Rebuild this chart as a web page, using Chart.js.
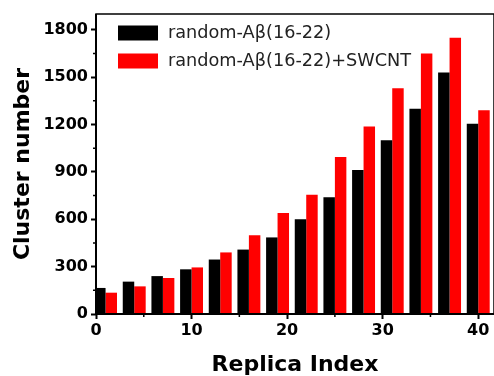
<!DOCTYPE html>
<html>
<head>
<meta charset="utf-8">
<script src="https://cdn.jsdelivr.net/npm/chart.js@4.4.1/dist/chart.umd.min.js"></script>
<style>
  html, body { margin: 0; padding: 0; background: #fff; }
  #wrap { width: 494px; height: 376px; }
</style>
</head>
<body>
<div id="wrap"><canvas id="chart" width="494" height="376"></canvas></div>
<script>
// Replica positions (centre of each bar pair)
const replicas = [1, 4, 7, 10, 13, 16, 19, 22, 25, 28, 31, 34, 37, 40];
const peptideOnly = [165, 205, 240, 283, 345, 408, 485, 600, 740, 912, 1100, 1300, 1530, 1205];
const withSwcnt = [135, 175, 228, 295, 390, 498, 640, 755, 995, 1187, 1430, 1650, 1750, 1290];
const xTicks = [0, 10, 20, 30, 40];
const xMinorTicks = [5, 15, 25, 35];
const yTicks = [0, 300, 600, 900, 1200, 1500, 1800];
const yMinorTicks = [150, 450, 750, 1050, 1350, 1650];

const boldFont = 'DejaVu Sans';

// frame, minor ticks and the in-plot legend
const decorations = {
    id: 'decorations',
    afterDraw(chart) {
        const ctx = chart.ctx;
        const area = chart.chartArea;
        const xs = chart.scales.x;
        const ys = chart.scales.y;
        ctx.save();
        ctx.strokeStyle = '#000';
        ctx.lineWidth = 1.5;
        ctx.strokeRect(area.left, area.top, area.right - area.left, area.bottom - area.top);
        ctx.lineWidth = 2;
        ctx.beginPath();
        ctx.moveTo(area.left, area.top);
        ctx.lineTo(area.left, area.bottom);
        ctx.lineTo(area.right, area.bottom);
        ctx.stroke();

        // minor ticks
        ctx.lineWidth = 1.5;
        ctx.beginPath();
        xMinorTicks.forEach(v => {
            const px = xs.getPixelForValue(v);
            ctx.moveTo(px, area.bottom);
            ctx.lineTo(px, area.bottom + 3);
        });
        yMinorTicks.forEach(v => {
            const py = ys.getPixelForValue(v);
            ctx.moveTo(area.left, py);
            ctx.lineTo(area.left - 3, py);
        });
        ctx.stroke();

        // legend
        ctx.font = '17.7px "DejaVu Sans"';
        ctx.textBaseline = 'middle';
        ctx.textAlign = 'left';
        const rows = [33, 61];
        chart.data.datasets.forEach((ds, i) => {
            ctx.fillStyle = ds.backgroundColor;
            ctx.fillRect(118, rows[i] - 7.5, 40, 15);
            ctx.fillStyle = '#222';
            ctx.fillText(ds.label, 168, rows[i]);
        });
        ctx.restore();
    }
};

const datasets = [
    {
        label: 'random-A\u03B2(16-22)',
        data: replicas.map((x, i) => ({ x: x, y: peptideOnly[i] })),
        backgroundColor: '#000000'
    },
    {
        label: 'random-A\u03B2(16-22)+SWCNT',
        data: replicas.map((x, i) => ({ x: x, y: withSwcnt[i] })),
        backgroundColor: '#ff0000'
    }
];

new Chart(document.getElementById('chart'), {
    type: 'bar',
    data: { datasets: datasets },
    plugins: [decorations],
    options: {
        responsive: false,
        animation: false,
        categoryPercentage: 0.8,
        barPercentage: 1.0,
        layout: { padding: { top: 14, right: 0, left: 0, bottom: 0 } },
        plugins: {
            legend: { display: false },
            tooltip: { enabled: false }
        },
        scales: {
            x: {
                type: 'linear',
                min: 0,
                max: 41.65,
                offset: false,
                afterBuildTicks: (scale) => {
                    scale.ticks = xTicks.map(v => ({ value: v }));
                },
                afterFit: (scale) => { scale.height = 62; },
                grid: { offset: false, drawOnChartArea: false, tickLength: 5, tickWidth: 2, color: '#000' },
                border: { display: false },
                ticks: {
                    color: '#000',
                    padding: 2,
                    maxRotation: 0,
                    callback: (v) => String(v),
                    font: { family: boldFont, size: 16, weight: 'bold' }
                },
                title: {
                    display: true,
                    text: 'Replica Index',
                    color: '#000',
                    padding: { top: 0, bottom: 0 },
                    font: { family: boldFont, size: 22, weight: 'bold', lineHeight: 1 }
                }
            },
            y: {
                min: 0,
                max: 1900,
                afterBuildTicks: (scale) => {
                    scale.ticks = yTicks.map(v => ({ value: v }));
                },
                afterFit: (scale) => { scale.width = 96; },
                grid: { drawOnChartArea: false, tickLength: 5, tickWidth: 2, color: '#000' },
                border: { display: false },
                ticks: {
                    color: '#000',
                    padding: 3,
                    callback: (v) => String(v),
                    font: { family: boldFont, size: 16, weight: 'bold' }
                },
                title: {
                    display: true,
                    text: 'Cluster number',
                    color: '#000',
                    padding: { top: 12, bottom: 0 },
                    font: { family: boldFont, size: 22, weight: 'bold', lineHeight: 1 }
                }
            }
        }
    }
});
</script>
</body>
</html>
